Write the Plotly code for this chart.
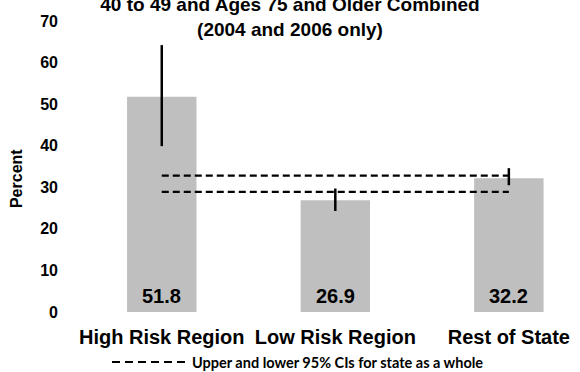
import plotly.graph_objects as go

categories = ["High Risk Region", "Low Risk Region", "Rest of State"]
values = [51.8, 26.9, 32.2]
ci_lower = [39.9, 24.3, 30.5]
ci_upper = [64.2, 29.7, 34.6]
state_ci_lower = 28.9
state_ci_upper = 32.8
y_ticks = [0, 10, 20, 30, 40, 50, 60, 70]
title_lines = ["40 to 49 and Ages 75 and Older Combined", "(2004 and 2006 only)"]
legend_text = "Upper and lower 95% CIs for state as a whole"

BOLD = "Liberation Sans"

fig = go.Figure()
fig.add_trace(go.Bar(
    x=categories, y=values,
    marker=dict(color="#bfbfbf", line=dict(width=0)),
    error_y=dict(type="data", symmetric=False,
                 array=[u - v for u, v in zip(ci_upper, values)],
                 arrayminus=[v - l for v, l in zip(values, ci_lower)],
                 color="black", thickness=2.5, width=0),
    showlegend=False, hoverinfo="skip",
))
for lvl in (state_ci_upper, state_ci_lower):
    fig.add_trace(go.Scatter(
        x=[categories[0], categories[-1]], y=[lvl, lvl], mode="lines",
        line=dict(color="black", width=2.2, dash="7px,4px"),
        showlegend=False, hoverinfo="skip",
    ))

annotations = []
for c, v in zip(categories, values):
    annotations.append(dict(x=c, y=0, xref="x", yref="y", text=f"<b>{v:.1f}</b>",
                            showarrow=False, yanchor="middle", yshift=16.5,
                            font=dict(family=BOLD, size=20, color="black")))
annotations.append(dict(x=-0.117, y=0.46, xref="paper", yref="paper", xanchor="center",
                        yanchor="middle",
                        text="<b>Percent</b>", textangle=-90, showarrow=False,
                        font=dict(family=BOLD, size=16, color="black")))
legend_y = (312 - 362) / 291
annotations.append(dict(x=(190 - 75) / 505, y=legend_y, xref="paper", yref="paper",
                        xanchor="left", yanchor="middle",
                        text="<b>" + legend_text + "</b>", showarrow=False,
                        font=dict(family="Lato", size=14.5, color="black")))

shapes = [dict(type="line", xref="paper", yref="paper",
               x0=(112 - 75) / 505, x1=(189 - 75) / 505, y0=legend_y, y1=legend_y,
               line=dict(color="black", width=1.8, dash="8px,5px"))]

fig.update_layout(
    width=580, height=372,
    margin=dict(l=75, r=0, t=21, b=60),
    paper_bgcolor="white", plot_bgcolor="white",
    bargap=0.6,
    title=dict(text="<b>" + "<br>".join(title_lines) + "</b>", x=0.5, xanchor="center",
               y=0.9705, yanchor="middle", yref="container",
               font=dict(family=BOLD, size=19, color="black")),
    xaxis=dict(range=[-0.5, 2.41], showgrid=False, zeroline=False, showline=False,
               ticks="", ticklabelstandoff=11,
               tickfont=dict(family=BOLD, size=20, color="black", weight="bold")),
    yaxis=dict(range=[0, 70], tickvals=y_ticks, showgrid=False, zeroline=False,
               showline=False, ticks="", ticklabelstandoff=16,
               tickfont=dict(family=BOLD, size=16, color="black", weight="bold")),
    annotations=annotations,
    shapes=shapes,
)
fig.write_html("out.html", config={"displayModeBar": False},
               post_script="document.body.style.margin='0px';")
